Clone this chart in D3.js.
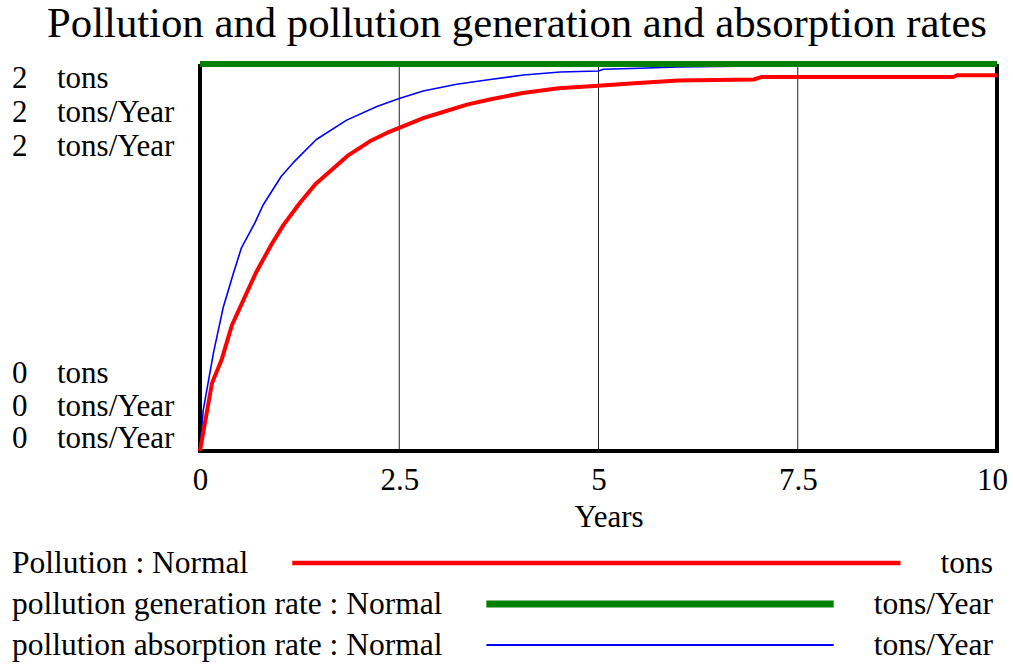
<!DOCTYPE html>
<html>
<head>
<meta charset="utf-8">
<script src="https://cdn.jsdelivr.net/npm/d3@7"></script>
<style>
  body { margin: 0; background: #fff; }
  text { font-family: "Liberation Serif", "Times New Roman", serif; fill: #000; }
</style>
</head>
<body>
<svg width="1013" height="667"></svg>
<script>
// values
var title = "Pollution and pollution generation and absorption rates";
var xTicks = [0, 2.5, 5, 7.5, 10];
var xLabel = "Years";

var pollutionTime = [0, 0.15, 0.27, 0.4, 0.5, 0.7, 0.9, 1.05, 1.25, 1.45, 1.7, 1.85, 2.15, 2.35, 2.5,
  2.8, 3.05, 3.35, 3.65, 4.05, 4.5, 5, 5.45, 6, 6.95, 7.05, 9.45, 9.5, 10];
var pollution = [0, 0.35, 0.47, 0.65, 0.74, 0.92, 1.07, 1.17, 1.28, 1.38, 1.47, 1.525, 1.605, 1.645, 1.67,
  1.72, 1.752, 1.79, 1.818, 1.85, 1.875, 1.888, 1.9, 1.915, 1.92, 1.933, 1.933, 1.942, 1.942];

var generationTime = [0, 10];
var generation = [2, 2];

var absorptionTime = [0, 0.04, 0.17, 0.29, 0.42, 0.52, 0.69, 0.79, 1.02, 1.17, 1.46, 1.84, 2.22, 2.49,
  2.8, 3.22, 3.64, 4.06, 4.52, 5, 5.06, 5.52, 6, 7, 8, 10];
var absorption = [0, 0.21, 0.51, 0.74, 0.92, 1.05, 1.18, 1.27, 1.42, 1.49, 1.61, 1.71, 1.78, 1.82,
  1.86, 1.895, 1.92, 1.943, 1.959, 1.964, 1.973, 1.978, 1.985, 1.99, 1.995, 1.997];

var yTopLabels = ["2", "2", "2"];
var yBottomLabels = ["0", "0", "0"];
var units = ["tons", "tons/Year", "tons/Year"];
var seriesNames = ["Pollution : Normal", "pollution generation rate : Normal", "pollution absorption rate : Normal"];
var seriesColors = ["#ff0000", "#008000", "#0000ff"];

var svg = d3.select("svg"),
    plotLeft = 200, plotRight = 997, plotTop = 64, plotBottom = 451;

var x = d3.scaleLinear().domain([0, 10]).range([plotLeft, plotRight]);
var y = d3.scaleLinear().domain([0, 2]).range([plotBottom, plotTop]);

svg.append("text")
    .attr("x", 517)
    .attr("y", 37)
    .attr("text-anchor", "middle")
    .attr("font-size", 42)
    .attr("textLength", 940)
    .attr("lengthAdjust", "spacingAndGlyphs")
    .text(title);

// vertical grid lines
svg.append("g")
  .selectAll("line")
  .data(xTicks.slice(1, -1))
  .enter().append("line")
    .attr("x1", function(d) { return x(d); })
    .attr("x2", function(d) { return x(d); })
    .attr("y1", plotTop)
    .attr("y2", plotBottom)
    .attr("stroke", "#222")
    .attr("stroke-width", 1);

// frame
svg.append("path")
    .attr("d", "M" + x(0) + "," + y(2) + "V" + y(0) + "H" + x(10) + "V" + y(2))
    .attr("fill", "none")
    .attr("stroke", "#000")
    .attr("stroke-width", 4);

// x axis labels
var xAxis = svg.append("g")
    .attr("transform", "translate(0," + plotBottom + ")")
    .call(d3.axisBottom(x).tickValues(xTicks).tickSize(0).tickPadding(17)
      .tickFormat(function(d) { return String(d); }));
xAxis.select(".domain").remove();
xAxis.selectAll("text")
    .attr("font-size", 31)
    .attr("font-family", "Liberation Serif, Times New Roman, serif");
// last label sits a little inside the frame, as in the original
xAxis.selectAll(".tick").filter(function(d) { return d === 10; })
    .select("text").attr("x", -5);

svg.append("text")
    .attr("x", 609)
    .attr("y", 527)
    .attr("text-anchor", "middle")
    .attr("font-size", 31)
    .text(xLabel);

// y labels, one row per series
var topOffsets = [24, 58, 92], bottomOffsets = [-68, -35.5, -3];
yTopLabels.forEach(function(v, i) {
  svg.append("text").attr("x", 12).attr("y", y(2) + topOffsets[i]).attr("font-size", 31).text(v);
  svg.append("text").attr("x", 57).attr("y", y(2) + topOffsets[i]).attr("font-size", 31).text(units[i]);
});
yBottomLabels.forEach(function(v, i) {
  svg.append("text").attr("x", 12).attr("y", y(0) + bottomOffsets[i]).attr("font-size", 31).text(v);
  svg.append("text").attr("x", 57).attr("y", y(0) + bottomOffsets[i]).attr("font-size", 31).text(units[i]);
});

var line = d3.line()
    .x(function(d) { return x(d[0]); })
    .y(function(d) { return y(d[1]); });

var series = [
  { t: absorptionTime, v: absorption, color: seriesColors[2], w: 1.6 },
  { t: pollutionTime, v: pollution, color: seriesColors[0], w: 4 },
  { t: generationTime, v: generation, color: seriesColors[1], w: 6 }
];

series.forEach(function(s) {
  svg.append("path")
      .datum(d3.zip(s.t, s.v))
      .attr("fill", "none")
      .attr("stroke", s.color)
      .attr("stroke-width", s.w)
      .attr("stroke-linejoin", "round")
      .attr("d", line);
});

// legend
var legendY = [573, 614, 655], legendW = [4.5, 7, 2];
seriesNames.forEach(function(name, i) {
  var label = svg.append("text")
      .attr("x", 12)
      .attr("y", legendY[i])
      .attr("font-size", 31.5)
      .text(name);
  var unit = svg.append("text")
      .attr("x", 993)
      .attr("y", legendY[i])
      .attr("text-anchor", "end")
      .attr("font-size", 31.5)
      .text(units[i]);
  var x1 = 12 + label.node().getComputedTextLength() + 44,
      x2 = 993 - unit.node().getComputedTextLength() - 40;
  svg.append("line")
      .attr("x1", x1)
      .attr("x2", x2)
      .attr("y1", legendY[i] - 10)
      .attr("y2", legendY[i] - 10)
      .attr("stroke", seriesColors[i])
      .attr("stroke-width", legendW[i]);
});
</script>
</body>
</html>
